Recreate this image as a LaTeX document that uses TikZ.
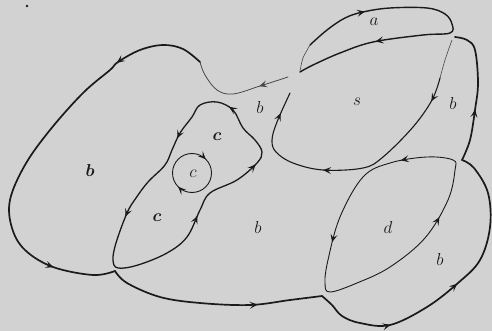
\documentclass[tikz,border=0pt]{standalone}
\usepackage{amsmath,bm}
\usetikzlibrary{arrows.meta,decorations.markings}
\definecolor{scanInk}  {HTML}{1A1A1A}
\definecolor{scanPaper}{HTML}{D2D2D2}

\begin{document}
\begin{tikzpicture}[x=1pt,y=-1pt,
    rim/.style={draw=scanInk,line width=1.7pt,line cap=round,line join=round},
    seam/.style={draw=scanInk,line width=1.1pt,line cap=round,line join=round},
    hair/.style={draw=scanInk!80,line width=0.6pt,line cap=round},
    flow/.style={postaction={decorate,decoration={markings,
        mark=at position #1 with {\arrow{Stealth[length=8pt,width=7pt,inset=3.5pt]}}}}},
    lbl/.style={font=\fontsize{19}{21}\selectfont,text=scanInk,inner sep=0pt}]
  \fill[scanPaper] (0,0) rectangle (492,331);
  \useasboundingbox (0,0) rectangle (492,331);
  \fill[scanInk] (27,6) circle[radius=1.3];

  % outer rim
  \draw[hair,line width=0.8pt,flow=0.28] plot[smooth,tension=0.6] coordinates
    {(288,77) (260,86) (233,94) (217,90) (205,75) (200,62)};
  \draw[rim,flow=0.22,flow=0.85] plot[smooth,tension=0.6] coordinates
    {(200,62) (183,49) (163,45) (140,50) (118,62) (110,70) (83,93) (50,130)
     (25,165) (10,200) (12,228) (25,250) (53,267) (93,275) (115,271)};
  \draw[rim,flow=0.70] plot[smooth,tension=0.6] coordinates
    {(115,271) (127,283) (160,297) (200,303) (250,305) (290,300) (322,296)};
  \draw[rim,flow=0.26,flow=0.52] plot[smooth,tension=0.6] coordinates
    {(322,296) (332,305) (342,316) (360,323) (390,325) (427,307) (458,283)
     (480,260) (490,227) (488,193) (474,168) (462,160)};
  \draw[rim,flow=0.38] plot[smooth,tension=0.6] coordinates
    {(462,160) (470,140) (475,110) (478,83) (475,50) (467,40) (455,37)};

  % handle a
  \draw[hair] plot[smooth] coordinates {(300,71) (303,58) (310,45)};
  \draw[seam,line width=1.4pt,flow=0.20,flow=0.75] plot[smooth,tension=0.6] coordinates
    {(310,45) (327,30) (345,18) (363,12) (390,8) (427,8) (445,14) (452,24)
     (450,33) (423,35) (373,42) (340,53) (313,65) (300,72)};

  % loop s
  \draw[hair] plot[smooth] coordinates {(452,40) (445,60) (440,78)};
  \draw[seam,flow=0.09,flow=0.585,flow=0.92] plot[smooth,tension=0.6] coordinates
    {(440,78) (432,100) (413,127) (383,157) (363,168) (323,170) (293,163)
     (276,152) (272,140) (277,122) (290,93)};

  % loop c with inner circle
  \draw[seam,line width=1.3pt,flow=0.17,flow=0.34,flow=0.49,flow=0.64,flow=0.84]
    plot[smooth cycle,tension=0.6] coordinates
    {(118,268) (138,265) (167,253) (187,237) (200,210) (210,193) (237,180)
     (257,163) (262,152) (255,140) (243,128) (233,110) (217,102) (200,105)
     (192,117) (180,133) (172,150) (165,165) (148,182) (136,198)
     (127,213) (116,243) (113,260)};
  \draw[seam,line width=0.9pt,flow=0.375,flow=0.875]
    (211.5,173) arc[start angle=0,end angle=360,radius=19.5];

  % loop d
  \draw[seam,line width=0.9pt,flow=0.063,flow=0.337,flow=0.79]
    plot[smooth cycle,tension=0.6] coordinates
    {(453,160) (427,157) (390,163) (363,177) (340,217) (328,260) (325,283)
     (330,292) (357,283) (390,267) (425,238) (448,200) (455,170)};

  \node[lbl] (lab-a)  at (374,22)  {$a$};
  \node[lbl] (lab-s)  at (357,102) {$s$};
  \node[lbl] (lab-b1) at (260,108) {$b$};
  \node[lbl] (lab-b2) at (453,104) {$b$};
  \node[lbl] (lab-b3) at (90,170)  {$\bm{b}$};
  \node[lbl] (lab-c1) at (217,137) {$\bm{c}$};
  \node[lbl] (lab-c2) at (193,174) {$c$};
  \node[lbl] (lab-c3) at (157,218) {$\bm{c}$};
  \node[lbl] (lab-b4) at (258,227) {$b$};
  \node[lbl] (lab-d)  at (388,227) {$d$};
  \node[lbl] (lab-b5) at (440,259) {$b$};
\end{tikzpicture}
\end{document}
